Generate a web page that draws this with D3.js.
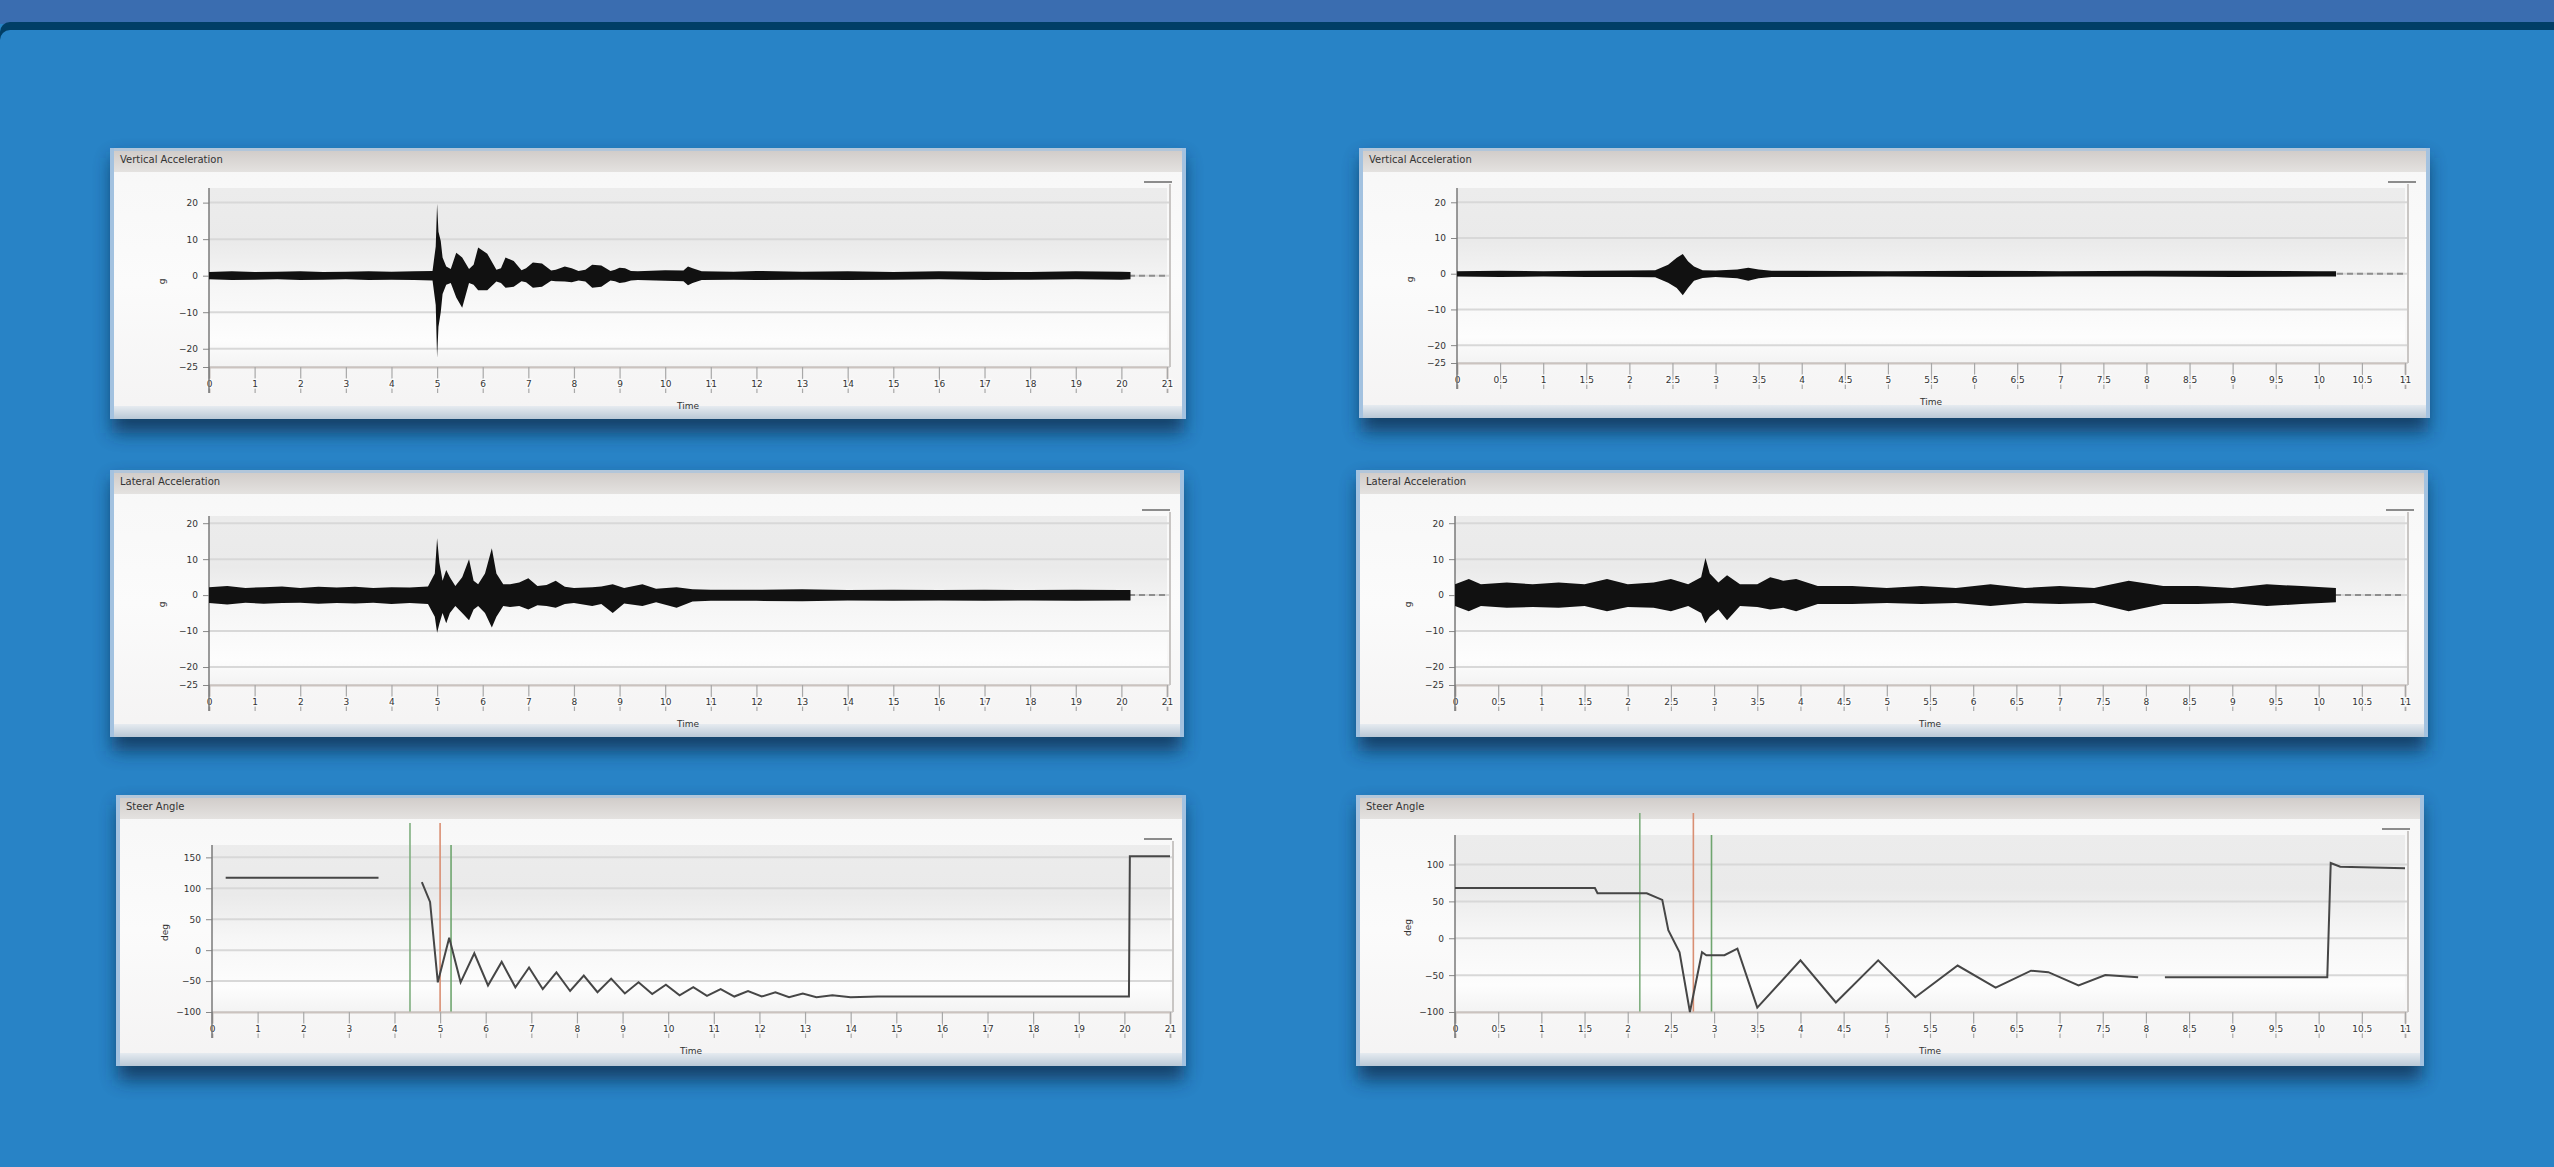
<!DOCTYPE html>
<html>
<head>
<meta charset="utf-8">
<script src="https://cdn.jsdelivr.net/npm/d3@7"></script>
<style>
  body { margin: 0; background: #2883c6; overflow: hidden; }
  text { font-family: "DejaVu Sans", sans-serif; }
</style>
</head>
<body>
<div id="chart-container"></div>
<script>
// tick labels
const leftTimeTicks = [0, 1, 2, 3, 4, 5, 6, 7, 8, 9, 10, 11, 12, 13, 14, 15, 16, 17, 18, 19, 20, 21];
const rightTimeTicks = [0, 0.5, 1, 1.5, 2, 2.5, 3, 3.5, 4, 4.5, 5, 5.5, 6, 6.5, 7, 7.5, 8, 8.5, 9, 9.5, 10, 10.5, 11];
const accelTicks = [20, 10, 0, -10, -20, -25];
const steerTicksLeft = [150, 100, 50, 0, -50, -100];
const steerTicksRight = [100, 50, 0, -50, -100];
const titles = ["Vertical Acceleration", "Vertical Acceleration", "Lateral Acceleration", "Lateral Acceleration", "Steer Angle", "Steer Angle"];

// vertical acceleration, left run (envelope of the trace)
const tlTime  = [0, 0.5, 1, 1.5, 2, 2.5, 3, 3.5, 4, 4.5, 4.9, 4.97, 5.0, 5.03, 5.08, 5.12, 5.2, 5.3, 5.42, 5.55, 5.7, 5.8, 5.9, 6.1, 6.3, 6.4, 6.5, 6.68, 6.85, 6.95, 7.1, 7.3, 7.5, 7.6, 7.8, 7.95, 8.1, 8.25, 8.4, 8.6, 8.8, 8.9, 9.0, 9.12, 9.25, 9.4, 10.0, 10.4, 10.5, 10.6, 10.8, 11.5, 12, 13, 14, 15, 16, 17, 18, 19, 20, 20.2];
const tlUpper = [1.0, 1.2, 1.0, 1.1, 1.2, 1.0, 1.1, 1.2, 1.1, 1.2, 1.3, 8, 19.7, 12, 9.5, 5, 2.5, 1.8, 6.3, 5, 1.8, 3, 7.7, 6, 1.6, 2, 5, 4, 1.5, 2, 3.6, 3.3, 1.4, 1.6, 2.5, 2, 1.3, 1.6, 3, 2.8, 1.3, 1.6, 2.2, 2.0, 1.3, 1.2, 1.5, 1.4, 2.5, 2, 1.2, 1.1, 1.3, 1.1, 1.2, 1.0, 1.2, 1.1, 1.0, 1.2, 1.1, 1.0];
const tlLower = [-1.0, -1.2, -1.1, -1.0, -1.2, -1.1, -1.0, -1.2, -1.1, -1.2, -1.3, -8, -22.5, -14, -10, -5, -2.5, -2, -6, -8.8, -2, -2.5, -4, -4, -1.6, -2, -3.3, -3, -1.5, -1.8, -3.3, -3, -1.4, -1.5, -1.6, -1.8, -1.3, -1.6, -3.3, -3, -1.3, -1.5, -2, -1.8, -1.3, -1.2, -1.4, -1.5, -2.6, -2, -1.2, -1.1, -1.2, -1.1, -1.2, -1.1, -1.0, -1.2, -1.1, -1.0, -1.1, -1.0];

// vertical acceleration, right run
const trTime  = [0, 0.5, 1, 1.5, 2, 2.3, 2.45, 2.55, 2.62, 2.68, 2.75, 2.85, 3.0, 3.25, 3.38, 3.5, 3.65, 4, 5, 6, 7, 8, 9, 10, 10.2];
const trUpper = [0.7, 0.8, 0.7, 0.8, 0.9, 1.0, 2.5, 4.5, 5.5, 3.5, 2, 1, 0.9, 1.2, 1.7, 1.2, 0.8, 0.8, 0.7, 0.8, 0.7, 0.8, 0.8, 0.7, 0.7];
const trLower = [-0.8, -0.9, -0.8, -0.9, -0.9, -1.0, -2.5, -4, -6, -4, -2, -1.2, -0.9, -1.3, -2.0, -1.3, -0.9, -0.9, -0.8, -0.9, -0.8, -0.8, -0.9, -0.8, -0.8];

// lateral acceleration, left run
const mlTime  = [0, 0.4, 0.8, 1.2, 1.6, 2.0, 2.4, 2.8, 3.2, 3.6, 4.0, 4.4, 4.8, 4.95, 5.0, 5.05, 5.12, 5.2, 5.28, 5.4, 5.55, 5.7, 5.8, 5.9, 6.05, 6.2, 6.3, 6.45, 6.6, 6.8, 7.0, 7.2, 7.4, 7.6, 7.8, 8.0, 8.4, 8.6, 8.85, 9.1, 9.5, 9.8, 10.25, 10.6, 11, 12, 13, 14, 15, 16, 17, 18, 19, 20, 20.2];
const mlUpper = [2.2, 2.5, 2.0, 2.2, 2.4, 2.0, 2.3, 2.1, 2.3, 2.0, 2.2, 2.1, 2.4, 6, 15.8, 9, 4, 7, 5, 2.5, 5, 10, 4, 3, 6, 13, 6, 3, 3, 3.5, 4.7, 2.5, 2.8, 4, 2.3, 2, 2.2, 2.4, 3, 2, 3, 1.8, 2.2, 1.6, 1.5, 1.5, 1.6, 1.4, 1.5, 1.4, 1.5, 1.4, 1.5, 1.4, 1.4];
const mlLower = [-2.2, -2.6, -2.1, -2.4, -2.2, -2.1, -2.4, -2.2, -2.3, -2.1, -2.5, -2.2, -2.5, -6, -10.5, -8, -5, -7.8, -5, -3, -5, -7, -4, -3, -5, -9, -6, -3, -3.3, -3, -4, -2.8, -3, -3.5, -2.5, -2.2, -3, -2.5, -5, -2.3, -3, -2, -3.5, -1.8, -1.6, -1.6, -1.7, -1.5, -1.6, -1.5, -1.6, -1.5, -1.6, -1.5, -1.5];

// lateral acceleration, right run
const mrTime  = [0, 0.16, 0.3, 0.6, 0.9, 1.2, 1.5, 1.76, 2.0, 2.3, 2.5, 2.7, 2.85, 2.9, 2.95, 3.05, 3.15, 3.3, 3.5, 3.65, 3.8, 3.95, 4.2, 4.6, 5.0, 5.4, 5.8, 6.2, 6.6, 7.0, 7.4, 7.8, 8.2, 8.6, 9.0, 9.4, 9.8, 10.2];
const mrUpper = [3, 4.5, 3, 3.5, 3, 3.5, 3, 4.5, 3, 3.5, 4.5, 3, 5, 10.3, 6, 3.5, 5.5, 3, 3, 5, 4, 4.5, 2.5, 2.5, 2, 2.5, 2, 3, 2, 2.5, 2, 4, 2.5, 2.5, 2, 3, 2.5, 2];
const mrLower = [-3, -4.5, -3, -3.5, -3.3, -3.5, -3, -4.5, -3.3, -3.5, -4.5, -3, -5, -7.8, -6, -4, -7, -3, -3.3, -4, -3.5, -4.5, -2.5, -2.5, -2.2, -2.5, -2.2, -3, -2.2, -2.5, -2.2, -4.5, -2.5, -2.5, -2.2, -3, -2.5, -2];

// steer angle, left run (null = no data)
const blTime  = [0.3, 3.65, 4.1, 4.6, 4.78, 4.95, 5.2, 5.45, 5.75, 6.05, 6.35, 6.65, 6.95, 7.25, 7.55, 7.85, 8.15, 8.45, 8.75, 9.05, 9.35, 9.65, 9.95, 10.25, 10.55, 10.85, 11.15, 11.45, 11.75, 12.05, 12.35, 12.65, 12.95, 13.25, 13.6, 14.0, 14.6, 20.1, 20.12, 21];
const blAngle = [117, 117, null, 110, 78, -52, 20, -52, -5, -57, -19, -60, -28, -63, -36, -66, -41, -68, -46, -70, -52, -71, -56, -73, -60, -74, -63, -75, -66, -75, -68, -76, -70, -76, -73, -76, -75, -75, 152, 152];
const blMarkers = [4.34, 5.0, 5.24];

// steer angle, right run
const brTime  = [0, 1.62, 1.65, 2.22, 2.4, 2.47, 2.6, 2.72, 2.86, 2.91, 3.12, 3.27, 3.5, 4.0, 4.41, 4.9, 5.33, 5.82, 6.26, 6.67, 6.87, 7.22, 7.53, 7.91, 8.05, 8.22, 10.1, 10.14, 10.25, 11];
const brAngle = [68, 68, 61, 61, 52, 11, -19, -100, -19, -23, -23, -14, -94, -30, -87, -30, -80, -37, -67, -44, -46, -64, -50, -53, null, -53, -53, 102, 97, 95];
const brMarkers = [2.14, 2.76, 2.97];

const W = 2554, H = 1167;

const svg = d3.select("#chart-container")
  .append("svg")
  .attr("width", W)
  .attr("height", H);

const defs = svg.append("defs");
const shadow = defs.append("filter").attr("id", "shadow")
  .attr("x", "-5%").attr("y", "-20%").attr("width", "110%").attr("height", "150%");
shadow.append("feGaussianBlur").attr("stdDeviation", 9);

function grad(id, stops) {
  const g = defs.append("linearGradient").attr("id", id)
    .attr("x1", 0).attr("y1", 0).attr("x2", 0).attr("y2", 1);
  stops.forEach(s => g.append("stop").attr("offset", s[0]).attr("stop-color", s[1]));
}
grad("titleGrad", [[0, "#cfcac7"], [1, "#e4e2e0"]]);
grad("bodyGrad", [[0, "#f7f7f7"], [0.5, "#fbfbfb"], [1, "#f4f3f3"]]);
grad("plotGrad", [[0, "#ececec"], [0.3, "#eaeaea"], [0.55, "#f6f6f6"], [0.85, "#fdfdfd"], [1, "#f3f3f3"]]);
grad("footGrad", [[0, "#e6ebf0"], [1, "#b9c8d6"]]);

// page background
svg.append("rect").attr("width", W).attr("height", H).attr("fill", "#2883c6");
svg.append("rect").attr("width", W).attr("height", 24).attr("fill", "#3a6db0");
svg.append("rect").attr("x", 0).attr("y", 22).attr("width", W + 20).attr("height", 30).attr("rx", 10).attr("fill", "#013e66");
svg.append("rect").attr("x", 0).attr("y", 30).attr("width", W + 20).attr("height", H).attr("rx", 10).attr("fill", "#2883c6");

const panels = [
  { box: [110, 148, 1076, 271], plot: [209, 1167, 188, 367], xDomain: [0, 21], xTicks: leftTimeTicks,
    yDomain: [-25, 24], yTicks: accelTicks, yTitle: "g", title: titles[0], t: tlTime, hi: tlUpper, lo: tlLower },
  { box: [1359, 148, 1071, 270], plot: [1457, 2405, 188, 363], xDomain: [0, 11], xTicks: rightTimeTicks,
    yDomain: [-25, 24], yTicks: accelTicks, yTitle: "g", title: titles[1], t: trTime, hi: trUpper, lo: trLower },
  { box: [110, 470, 1074, 267], plot: [209, 1167, 516, 685], xDomain: [0, 21], xTicks: leftTimeTicks,
    yDomain: [-25, 22], yTicks: accelTicks, yTitle: "g", title: titles[2], t: mlTime, hi: mlUpper, lo: mlLower },
  { box: [1356, 470, 1072, 267], plot: [1455, 2405, 516, 685], xDomain: [0, 11], xTicks: rightTimeTicks,
    yDomain: [-25, 22], yTicks: accelTicks, yTitle: "g", title: titles[3], t: mrTime, hi: mrUpper, lo: mrLower },
  { box: [116, 795, 1070, 271], plot: [212, 1170, 845, 1012], xDomain: [0, 21], xTicks: leftTimeTicks,
    yDomain: [-100, 170], yTicks: steerTicksLeft, yTitle: "deg", title: titles[4], t: blTime, v: blAngle, markers: blMarkers },
  { box: [1356, 795, 1068, 271], plot: [1455, 2405, 835, 1012], xDomain: [0, 11], xTicks: rightTimeTicks,
    yDomain: [-100, 140], yTicks: steerTicksRight, yTitle: "deg", title: titles[5], t: brTime, v: brAngle, markers: brMarkers }
];

panels.forEach(p => {
  const [bx, by, bw, bh] = p.box;
  const [left, right, top, bottom] = p.plot;
  const g = svg.append("g");

  // frame
  g.append("rect").attr("x", bx + 2).attr("y", by + 10).attr("width", bw - 4).attr("height", bh + 4)
    .attr("fill", "#0a2c4a").attr("opacity", 0.75).attr("filter", "url(#shadow)");
  g.append("rect").attr("x", bx).attr("y", by).attr("width", bw).attr("height", bh).attr("fill", "url(#bodyGrad)");
  g.append("rect").attr("x", bx).attr("y", by).attr("width", bw).attr("height", 24).attr("fill", "url(#titleGrad)");
  g.append("rect").attr("x", bx).attr("y", by).attr("width", bw).attr("height", 3).attr("fill", "#b2c6da");
  g.append("rect").attr("x", bx).attr("y", by + bh - 13).attr("width", bw).attr("height", 13).attr("fill", "url(#footGrad)");
  g.append("rect").attr("x", bx).attr("y", by).attr("width", 4).attr("height", bh).attr("fill", "#a3c2e0");
  g.append("rect").attr("x", bx + bw - 4).attr("y", by).attr("width", 4).attr("height", bh).attr("fill", "#a3c2e0");
  g.append("text").attr("x", bx + 10).attr("y", by + 15)
    .attr("font-size", 10).attr("fill", "#333").text(p.title);

  const x = d3.scaleLinear().domain(p.xDomain).range([left, right]);
  const y = d3.scaleLinear().domain(p.yDomain).range([bottom, top]);

  g.append("rect").attr("x", left).attr("y", top).attr("width", right - left).attr("height", bottom - top)
    .attr("fill", "url(#plotGrad)");

  // grid
  g.selectAll(".grid").data(p.yTicks).enter().append("line")
    .attr("x1", left).attr("x2", right + 3)
    .attr("y1", d => y(d)).attr("y2", d => y(d))
    .attr("stroke", "#d8d8d8").attr("stroke-width", 2);

  // right border and legend dash
  g.append("line").attr("x1", right + 3).attr("x2", right + 3).attr("y1", top - 4).attr("y2", bottom)
    .attr("stroke", "#c9c6c4").attr("stroke-width", 2);
  g.append("line").attr("x1", bx + bw - 42).attr("x2", bx + bw - 14).attr("y1", top - 6).attr("y2", top - 6)
    .attr("stroke", "#8c8c8c").attr("stroke-width", 2);

  // markers (steer panels)
  if (p.markers) {
    const mColors = ["#7fae7f", "#d98f73", "#6fa56f"];
    p.markers.forEach((m, i) => {
      g.append("line").attr("x1", x(m)).attr("x2", x(m))
        .attr("y1", i === 2 ? top : top - 22).attr("y2", bottom)
        .attr("stroke", mColors[i]).attr("stroke-width", 1.6);
    });
  }

  // x axis
  const xAxis = d3.axisBottom(x).tickValues(p.xTicks).tickSize(26).tickPadding(-12)
    .tickFormat(d => String(d));
  const xg = g.append("g").attr("transform", `translate(0,${bottom})`).call(xAxis);
  xg.select(".domain").attr("stroke", "#cbc3bf").attr("stroke-width", 2);
  xg.selectAll(".tick line").attr("stroke", "#a8a8a8").attr("stroke-width", 1.2);
  xg.selectAll(".tick text").attr("font-size", 9).attr("fill", "#333")
    .attr("stroke", "#fafafa").attr("stroke-width", 3).attr("paint-order", "stroke")
    .attr("font-family", "DejaVu Sans");
  g.append("text").attr("x", (left + right) / 2).attr("y", bottom + 42)
    .attr("text-anchor", "middle").attr("font-size", 9).attr("fill", "#333").text("Time");

  // y axis
  const yAxis = d3.axisLeft(y).tickValues(p.yTicks).tickSize(6).tickPadding(5);
  const yg = g.append("g").attr("transform", `translate(${left},0)`).call(yAxis);
  yg.select(".domain").remove();
  yg.selectAll(".tick line").attr("stroke", "#888");
  yg.selectAll(".tick text").attr("font-size", 9).attr("fill", "#333").attr("font-family", "DejaVu Sans");
  g.append("line").attr("x1", left).attr("x2", left).attr("y1", top).attr("y2", bottom + 26)
    .attr("stroke", "#7a7a7a").attr("stroke-width", 1.5);
  g.append("text").attr("transform", `translate(${left - 44},${(top + bottom) / 2 + 4}) rotate(-90)`)
    .attr("text-anchor", "middle").attr("font-size", 9).attr("fill", "#333").text(p.yTitle);

  const idx = d3.range(p.t.length);
  if (p.hi) {
    // zero reference, visible past the end of the record
    g.append("line").attr("x1", x(p.xDomain[0])).attr("x2", right)
      .attr("y1", y(0)).attr("y2", y(0))
      .attr("stroke", "#8e8e8e").attr("stroke-width", 2).attr("stroke-dasharray", "6,4");
    const area = d3.area()
      .x(i => x(p.t[i]))
      .y0(i => y(p.lo[i]))
      .y1(i => y(p.hi[i]));
    g.append("path").datum(idx).attr("d", area).attr("fill", "#111");
  } else {
    const line = d3.line()
      .defined(i => p.v[i] !== null)
      .x(i => x(p.t[i]))
      .y(i => y(p.v[i]));
    g.append("path").datum(idx).attr("d", line)
      .attr("fill", "none").attr("stroke", "#464646").attr("stroke-width", 2);
  }
});
</script>
</body>
</html>
